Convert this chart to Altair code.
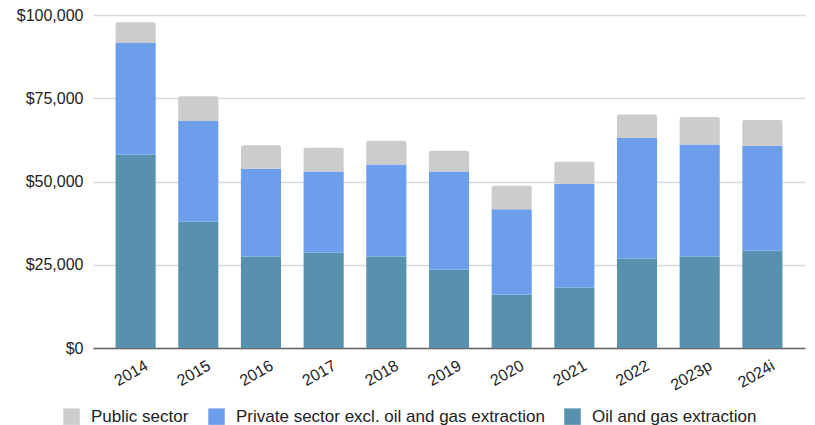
import altair as alt
import pandas as pd

years = ["2014", "2015", "2016", "2017", "2018", "2019", "2020", "2021", "2022", "2023p", "2024i"]
oil = [58000, 37900, 27500, 28700, 27500, 23600, 16100, 18200, 26900, 27500, 29200]
private = [33600, 30300, 26300, 24300, 27600, 29400, 25600, 31100, 36200, 33600, 31500]
public = [6200, 7400, 7100, 7100, 7100, 6200, 7000, 6600, 7000, 8300, 7800]

series_names = ["Public sector", "Private sector excl. oil and gas extraction", "Oil and gas extraction"]
series_colors = ["#cccccc", "#6d9eeb", "#5891ad"]

rows = []
for i, y in enumerate(years):
    rows.append({"year": y, "series": series_names[2], "value": oil[i], "ord": 0})
    rows.append({"year": y, "series": series_names[1], "value": private[i], "ord": 1})
    rows.append({"year": y, "series": series_names[0], "value": public[i], "ord": 2})
df = pd.DataFrame(rows)

FONT = "Liberation Sans"

base = alt.Chart(df).transform_stack(
    stack="value", groupby=["year"], as_=["v0", "v1"], sort=[alt.SortField("ord", order="ascending")]
)

enc = dict(
    x=alt.X("year:N", sort=years, title=None,
            scale=alt.Scale(paddingInner=0.36, paddingOuter=0.36),
            axis=alt.Axis(labelAngle=-30, labelAlign="right", labelBaseline="top",
                          labelFontSize=16, labelColor="#222222", labelFont=FONT,
                          ticks=False, domain=True, domainColor="#666666", domainWidth=1.5,
                          labelPadding=9, labelOffset=7, grid=False)),
    y=alt.Y("v0:Q", title=None,
            scale=alt.Scale(domain=[0, 100000], nice=False),
            axis=alt.Axis(values=[0, 25000, 50000, 75000, 100000], format="$,.0f",
                          labelFontSize=16, labelColor="#222222", labelFont=FONT,
                          ticks=False, domain=False, labelPadding=10,
                          gridColor="#d9d9d9", gridWidth=1.3)),
    y2="v1:Q",
    color=alt.Color("series:N", title=None,
                    scale=alt.Scale(domain=series_names, range=series_colors),
                    legend=alt.Legend(orient="none", legendX=-30, legendY=393, direction="horizontal",
                                      symbolType="square", symbolSize=272, symbolStrokeWidth=0,
                                      labelFontSize=17, labelColor="#222222", labelFont=FONT,
                                      labelOffset=11, columnPadding=19, columns=3,
                                      labelLimit=400)),
)

lower = base.transform_filter("datum.ord < 2").mark_bar().encode(**enc)
upper = base.transform_filter("datum.ord == 2").mark_bar(
    cornerRadiusTopLeft=2, cornerRadiusTopRight=2).encode(**enc)

chart = alt.layer(lower, upper).properties(
    width=712, height=333,
    autosize=alt.AutoSizeParams(type="none"),
    padding={"left": 85, "top": 7, "right": 2, "bottom": 77},
).configure(font=FONT).configure_view(strokeWidth=0, stroke="transparent")

chart.save("out.html", embed_options={"renderer": "svg", "actions": False})
